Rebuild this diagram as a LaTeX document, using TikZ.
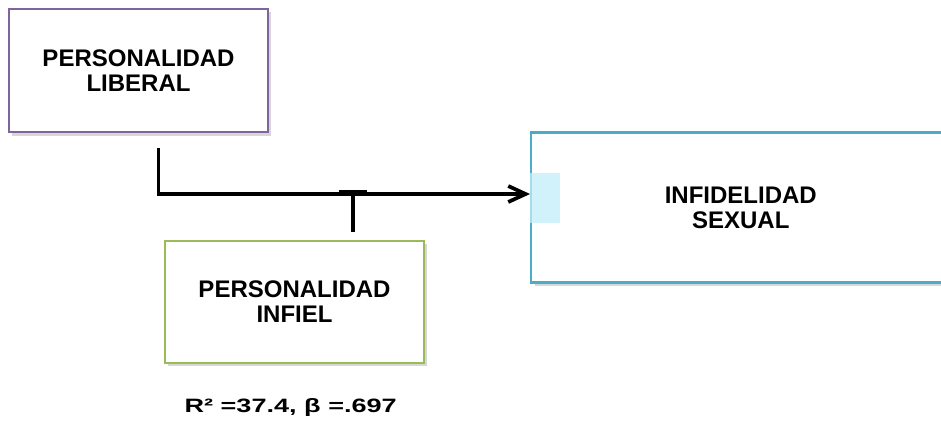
\documentclass[tikz,border=0pt]{standalone}
\usepackage{fontspec}
\setmainfont{Liberation Sans}
\usepackage{graphicx}
\usetikzlibrary{arrows.meta,calc,shadows}
\definecolor{lila}{HTML}{8064A2}
\definecolor{verde}{HTML}{9BBB59}
\definecolor{celeste}{HTML}{4BACC6}
\definecolor{celestebg}{HTML}{C4EEFA}

\tikzset{
  caja/.style={draw, line width=1.8pt, fill=white, align=center, inner sep=0pt,
    font=\bfseries\fontsize{18}{18.5}\selectfont,
    drop shadow={shadow xshift=2.5pt, shadow yshift=-2.5pt, opacity=0.35, fill=black!45}},
  conn/.style={line width=2.8pt},
}

\begin{document}
\begin{tikzpicture}[x=0.75pt,y=0.75pt,yscale=-1,xscale=1]
\useasboundingbox (0,0) rectangle (941,426);

%Caja: personalidad liberal
\node[caja, draw=lila, minimum width=194.25pt, minimum height=92.6pt] (liberal) at (138.5,70.5) {PERSONALIDAD\\LIBERAL};
%Caja: personalidad infiel
\node[caja, draw=verde, minimum width=194.25pt, minimum height=91.5pt] (infiel) at (294.5,301.7) {PERSONALIDAD\\INFIEL};
%Caja: infidelidad sexual
\node[caja, draw=celeste, minimum width=314.25pt, minimum height=112.5pt] (sexual) at (740.75,207.6) {INFIDELIDAD\\SEXUAL};
%Marca celeste
\fill[celestebg, opacity=0.75] ($(sexual.west)+(0,-35)$) rectangle ($(sexual.west)+(30,15)$);

%Puntos de quiebre
\coordinate (inicio) at (158.5,148);
\coordinate (codo) at (158.5,194);
\coordinate (tee) at (353,194);

%Lineas
\draw[conn, -{Straight Barb[length=13pt,width=12pt]}] (inicio) -- (codo) -- (codo -| sexual.west);
\draw[conn] ($(infiel.north -| tee)+(0,-8)$) -- (tee);
\draw[conn] ($(tee)+(-14,-2.5)$) -- ($(tee)+(14,-2.5)$);

% Texto
\node[font=\bfseries\fontsize{14.5}{16}\selectfont] (stats) at (290.7,407) {\scalebox{1.4}[1]{R² =37.4, β =.697}};

\end{tikzpicture}
\end{document}
